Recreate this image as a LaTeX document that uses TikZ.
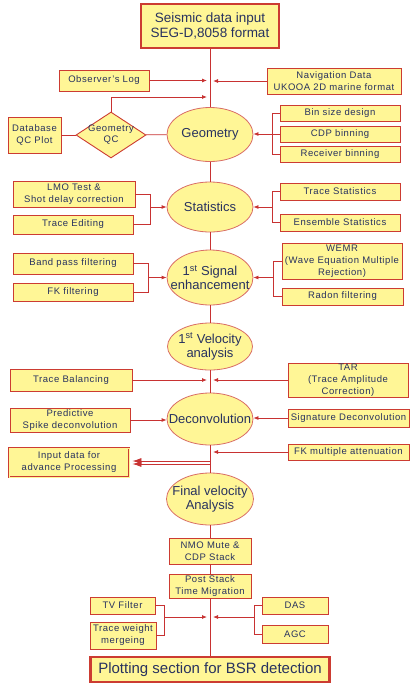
\documentclass[tikz,border=0pt]{standalone}
\usepackage{fontspec}
\setmainfont{Liberation Sans}
\newfontfamily\boxfont[LetterSpace=6]{Liberation Sans}
\usetikzlibrary{shapes.geometric,arrows.meta}
\definecolor{boxfill}{RGB}{255,246,150}
\definecolor{boxline}{RGB}{204,60,50}
\definecolor{linkline}{RGB}{200,50,50}
\definecolor{textblue}{RGB}{40,50,95}

\begin{document}
\begin{tikzpicture}[x=1pt,y=-1pt,>={Latex[length=5pt,width=4pt]},
    box size/.style 2 args={minimum width=#1pt,minimum height=#2pt},
    side box/.style={rectangle,draw=boxline,fill=boxfill,text=textblue,line width=0.9pt,
                     inner sep=0pt,align=center,font=\boxfont\fontsize{9.5}{12}\selectfont},
    proc node/.style={ellipse,draw=boxline!75,fill=boxfill,text=textblue,line width=0.8pt,
                      inner xsep=-14pt,inner ysep=-4pt,align=center,font=\fontsize{13}{14}\selectfont},
    end box/.style={side box,line width=2.2pt,font=\fontsize{13.5}{15}\selectfont},
    check node/.style={diamond,draw=boxline,fill=boxfill,text=textblue,line width=0.9pt,aspect=1.5,
                       inner sep=-4pt,align=center,font=\boxfont\fontsize{9.5}{11}\selectfont},
    link/.style={draw=linkline,line width=0.8pt},
    big link/.style={link,-{Latex[length=9pt,width=6pt]}}]
  \path[use as bounding box,fill=white] (0,0) rectangle (414,689);
  \coordinate (sp) at (210,0);

  % main column
  \node[end box,box size={138}{44}] (input) at (210,26) {Seismic data input\\SEG-D,8058 format};
  \node[proc node,box size={86}{54}] (geo) at (210,134.5) {Geometry};
  \node[proc node,box size={86}{50}] (stat) at (210,207) {Statistics};
  \node[proc node,box size={86}{55}] (sig) at (210,277.5) {1\textsuperscript{st} Signal\\enhancement};
  \node[proc node,box size={85}{47}] (vel) at (210,346.5) {1\textsuperscript{st} Velocity\\analysis};
  \node[proc node,box size={86}{52}] (decon) at (210,419) {Deconvolution};
  \node[proc node,box size={87}{52}] (fvel) at (210,499) {Final velocity\\Analysis};
  \node[side box,box size={82}{26}] (nmo) at (210,551) {NMO Mute \&\\CDP Stack};
  \node[side box,box size={82}{24}] (post) at (210,586) {Post Stack\\Time Migration};
  \node[end box,box size={239}{25},font=\fontsize{15}{17}\selectfont] (plot) at (210,669.5) {Plotting section for BSR detection};

  % side steps
  \node[side box,box size={90}{21}] (obs) at (104,80.5) {Observer’s Log};
  \node[side box,box size={134}{26}] (nav) at (334,81) {Navigation Data\\UKOOA 2D marine format};
  \node[check node,box size={70}{46}] (qc) at (111,135) {Geometry\\QC};
  \node[side box,box size={53}{36}] (db) at (34.5,135) {Database\\QC Plot};
  \node[side box,box size={120}{16}] (bin) at (340,113) {Bin size design};
  \node[side box,box size={120}{16}] (cdp) at (340,134) {CDP binning};
  \node[side box,box size={120}{16}] (rec) at (340,154.5) {Receiver binning};
  \node[side box,box size={122}{26}] (lmo) at (74,194) {LMO Test \&\\Shot delay correction};
  \node[side box,box size={120}{19}] (edit) at (73,224.5) {Trace Editing};
  \node[side box,box size={120}{17}] (tstat) at (340,191.5) {Trace Statistics};
  \node[side box,box size={120}{17}] (ens) at (340,222.5) {Ensemble Statistics};
  \node[side box,box size={120}{21}] (band) at (73,263.5) {Band pass filtering};
  \node[side box,box size={120}{18}] (fk) at (73,292) {FK filtering};
  \node[side box,box size={120}{36}] (wemr) at (342,261) {WEMR\\(Wave Equation Multiple\\Rejection)};
  \node[side box,box size={121}{17}] (radon) at (342.5,296.5) {Radon filtering};
  \node[side box,box size={122}{22}] (bal) at (71,380) {Trace Balancing};
  \node[side box,box size={120}{34}] (tar) at (348,380) {TAR\\(Trace Amplitude\\Correction)};
  \node[side box,box size={120}{24}] (pred) at (70,420) {Predictive\\Spike deconvolution};
  \node[side box,box size={121}{18}] (sdec) at (348.5,418) {Signature Deconvolution};
  \node[side box,box size={121}{16}] (fkm) at (348.5,452) {FK multiple attenuation};
  \node[side box,box size={120}{29},double=boxfill,double distance=1pt,line width=0.8pt] (adv) at (69,462.5) {Input data for\\advance Processing};
  \node[side box,box size={65}{17}] (tv) at (122.5,605.5) {TV Filter};
  \node[side box,box size={66}{27}] (tw) at (123,635.5) {Trace weight\\mergeing};
  \node[side box,box size={66}{17}] (das) at (295,605.5) {DAS};
  \node[side box,box size={66}{18}] (agc) at (295,634) {AGC};

  \coordinate (gr) at (272,0);
  \coordinate (sl) at (150,0);
  \coordinate (sr) at (272,0);
  \coordinate (el) at (148,0);
  \coordinate (er) at (273,0);
  \coordinate (pj) at (164,617);
  \coordinate (qj) at (254,617);
  \coordinate (qcin) at (207,97);
  \coordinate (ad1) at ([yshift=1.5pt]adv.east);
  \coordinate (ad2) at ([yshift=-1.5pt]adv.east);

  \path[link]
    (input) edge (geo)
    (geo) edge (stat)
    (stat) edge (sig)
    (sig) edge (vel)
    (vel) edge (decon)
    (decon) edge (fvel)
    (fvel) edge (nmo)
    (nmo) edge (post)
    (post) edge (plot)
    (db) edge (qc)
    (qc) edge (geo);

  \draw[link,->] (obs.east) -- ([xshift=-3pt]obs.east -| sp);
  \draw[link,->] (nav.west) -- ([xshift=3pt]nav.west -| sp);
  \draw[link,->] (qc.north) |- (qcin);
  \draw[link] (bin.west) -| (gr |- rec.west) -- (rec.west);
  \draw[link,->] (cdp.west) -- (cdp.west -| geo.east);

  \draw[link] (lmo.east) -| (sl |- edit.east) -- (edit.east);
  \draw[link,->] (sl |- stat.west) -- (stat.west);
  \draw[link] (tstat.west) -| (sr |- ens.west) -- (ens.west);
  \draw[link,->] (sr |- stat.east) -- (stat.east);

  \draw[link] (band.east) -| (el |- fk.east) -- (fk.east);
  \draw[link,->] (el |- sig.west) -- (sig.west);
  \draw[link] (wemr.west) -| (er |- radon.west) -- (radon.west);
  \draw[link,->] (er |- sig.east) -- (sig.east);

  \draw[link,->] (bal.east) -- ([xshift=-3pt]bal.east -| sp);
  \draw[link,->] (tar.west) -- ([xshift=3pt]tar.west -| sp);
  \draw[link,->] (pred.east) -- (pred.east -| decon.west);
  \draw[link,->] (sdec.west) -- (sdec.west -| decon.east);
  \draw[link,->] (fkm.west) -- ([xshift=3pt]fkm.west -| sp);
  \draw[big link] (ad1 -| sp) -- ([xshift=3pt]ad1);
  \draw[big link] (ad2 -| sp) -- ([xshift=3pt]ad2);

  \draw[link] (tv.east) -| (pj |- tw.east) -- (tw.east);
  \draw[link,->] (pj) -- ([xshift=-3pt]pj -| sp);
  \draw[link] (das.west) -| (qj |- agc.west) -- (agc.west);
  \draw[link,->] (qj) -- ([xshift=3pt]qj -| sp);
\end{tikzpicture}
\end{document}
